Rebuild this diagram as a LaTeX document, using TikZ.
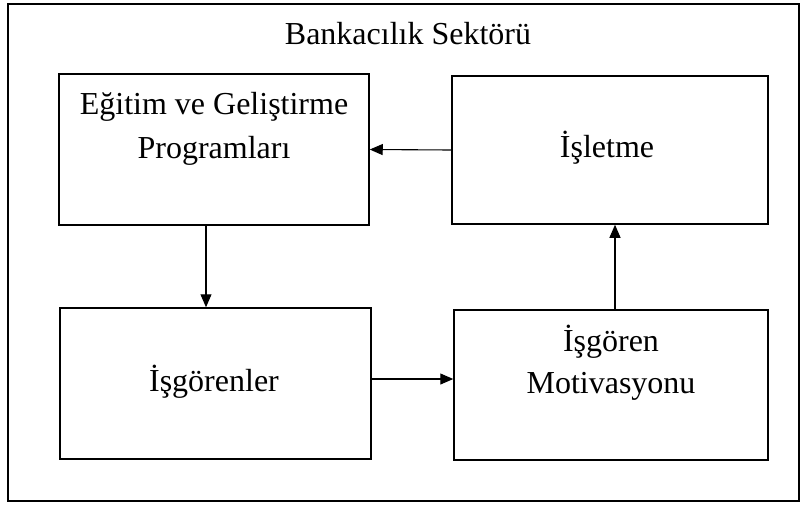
\documentclass[tikz,border=0pt]{standalone}
\usepackage{fontspec}
\setmainfont{Liberation Serif}
\usetikzlibrary{arrows.meta}
\begin{document}
\begin{tikzpicture}[x=1pt,y=-1pt,
  boxnode/.style={draw,line width=1.5pt,rectangle,inner sep=0pt},
  txt/.style={anchor=base,inner sep=0pt,font=\fontsize{32}{38}\selectfont},
  arr/.style={line width=1.1pt,-{Triangle[length=13pt,width=11pt]}}]
\useasboundingbox (0,0) rectangle (803,504);
\node[draw,line width=1.8pt,rectangle,inner sep=0pt,minimum width=791pt,minimum height=497pt] (frame) at (403.5,252.5) {};
\node[txt] (title) at (408,44) {Bankacılık Sektörü};
% boxes
\node[boxnode,minimum width=310pt,minimum height=151pt] (tl) at (214,149.5) {};
\node[boxnode,minimum width=316pt,minimum height=148pt] (tr) at (610,150) {};
\node[boxnode,minimum width=311pt,minimum height=151pt] (bl) at (215.5,383.5) {};
\node[boxnode,minimum width=314pt,minimum height=150pt] (br) at (611,385) {};
% texts
\node[txt] (tl1) at (214,114) {Eğitim ve Geliştirme};
\node[txt] (tl2) at (214,158) {Programları};
\node[txt] (trt) at (607,157) {İşletme};
\node[txt] (blt) at (214,391) {İşgörenler};
\node[txt] (br1) at (611,351) {İşgören};
\node[txt] (br2) at (611,393) {Motivasyonu};
% arrows
\draw[arr] (tr.west) -- (tl.east);
\draw[arr] ([xshift=-8pt]tl.south) -- ([xshift=-8pt]tl.south |- bl.north);
\draw[arr] ([yshift=4.5pt]bl.east) -- ([yshift=4.5pt]bl.east -| br.west);
\draw[arr] ([xshift=4pt]br.north) -- ([xshift=4pt]br.north |- tr.south);
\end{tikzpicture}
\end{document}
